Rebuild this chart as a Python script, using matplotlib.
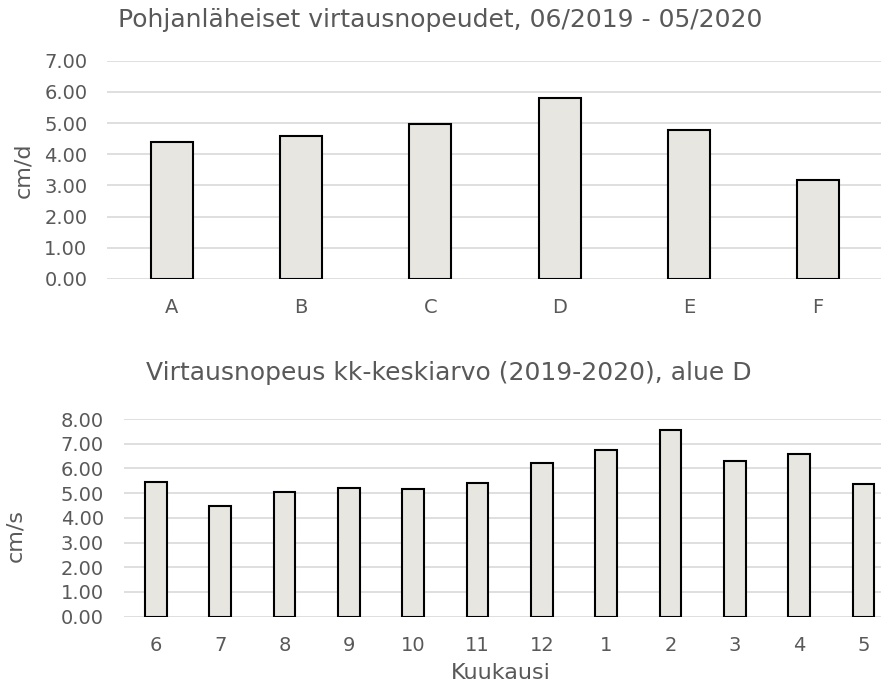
import matplotlib.pyplot as plt

# top chart: areas
areas = ['A', 'B', 'C', 'D', 'E', 'F']
area_speed = [4.38, 4.59, 4.97, 5.80, 4.79, 3.17]

# bottom chart: monthly means, area D
months = ['6', '7', '8', '9', '10', '11', '12', '1', '2', '3', '4', '5']
month_speed = [5.45, 4.49, 5.06, 5.21, 5.16, 5.41, 6.22, 6.76, 7.56, 6.32, 6.59, 5.37]

grey = '#595959'
grid = '#d9d9d9'
face = '#e8e6e0'

plt.rcParams['font.family'] = 'DejaVu Sans'

fig = plt.figure(figsize=(8.81, 6.86), dpi=100)
W, H = 881, 686


def px_axes(left, top, right, bottom):
    return fig.add_axes([left / W, 1 - bottom / H, (right - left) / W, (bottom - top) / H])


def style(ax, ymax):
    ax.set_ylim(0, ymax)
    ax.set_yticks(range(0, ymax + 1))
    ax.set_yticklabels([f'{v:.2f}' for v in range(0, ymax + 1)])
    ax.yaxis.grid(True, color=grid, linewidth=1.2)
    ax.set_axisbelow(True)
    for s in ax.spines.values():
        s.set_visible(False)
    ax.tick_params(length=0, colors=grey, labelsize=14)
    ax.tick_params(axis='y', pad=14.5)
    ax.tick_params(axis='x', pad=13.8)


ax1 = px_axes(107.4, 60.7, 882.6, 279)
ax1.bar(range(len(areas)), area_speed, width=0.325, color=face,
        edgecolor='black', linewidth=1.5)
ax1.set_xlim(-0.5, len(areas) - 0.5)
ax1.set_xticks(range(len(areas)))
ax1.set_xticklabels(areas)
style(ax1, 7)
ax1.set_ylabel('cm/d', color=grey, fontsize=16)
ax1.yaxis.set_label_coords(-0.096, 0.5)
fig.text(440 / W, 1 - 20 / H, 'Pohjanläheiset virtausnopeudet, 06/2019 - 05/2020',
         ha='center', va='center', color=grey, fontsize=18)

ax2 = px_axes(123.85, 419, 895.6, 616.7)
ax2.bar(range(len(months)), month_speed, width=0.337, color=face,
        edgecolor='black', linewidth=1.5)
ax2.set_xlim(-0.5, len(months) - 0.5)
ax2.set_xticks(range(len(months)))
ax2.set_xticklabels(months)
style(ax2, 8)
ax2.set_ylabel('cm/s', color=grey, fontsize=16)
ax2.yaxis.set_label_coords(-0.128, 0.413)
fig.text(501 / W, 1 - 673 / H, 'Kuukausi', ha='center', va='center',
         color=grey, fontsize=16)
fig.text(449 / W, 1 - 373 / H, 'Virtausnopeus kk-keskiarvo (2019-2020), alue D',
         ha='center', va='center', color=grey, fontsize=18)

fig.savefig('out.png', dpi=100)
